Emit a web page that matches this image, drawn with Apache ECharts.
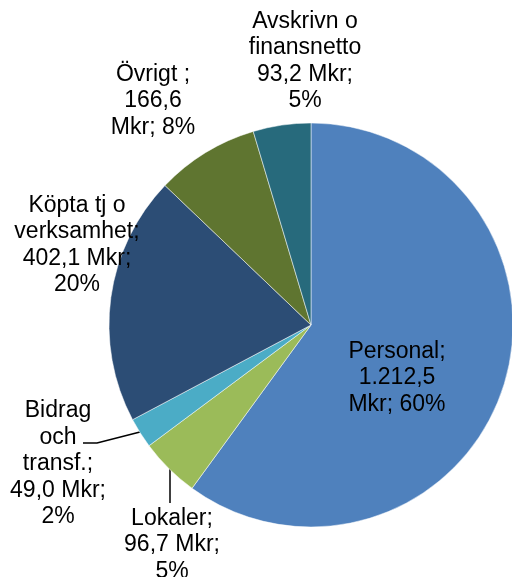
<!DOCTYPE html>
<html>
<head>
<meta charset="utf-8">
<script src="https://cdn.jsdelivr.net/npm/echarts@6/dist/echarts.min.js"></script>
<style>
  html, body { margin: 0; padding: 0; background: #fff; }
  #chart { width: 512px; height: 577px; }
</style>
</head>
<body>
<div id="chart"></div>
<script>
// categories and values (Mkr), clockwise from 12 o'clock
const categories = ['Personal', 'Lokaler', 'Bidrag och transf.', 'Köpta tj o verksamhet', 'Övrigt ', 'Avskrivn o finansnetto'];
const values = [1212.5, 96.7, 49.0, 402.1, 166.6, 93.2];
const colors = ['#4F81BD', '#9BBB59', '#4BACC6', '#2C4D75', '#5F7530', '#276A7C'];
// how each data label is broken into lines ({v} = value, {p} = percent)
const labelTemplates = [
  'Personal;\n{v}\nMkr; {p}',
  'Lokaler;\n{v} Mkr;\n{p}',
  'Bidrag\noch\ntransf.;\n{v} Mkr;\n{p}',
  'Köpta tj o\nverksamhet;\n{v} Mkr;\n{p}',
  'Övrigt ;\n{v}\nMkr; {p}',
  'Avskrivn o\nfinansnetto\n{v} Mkr;\n{p}'
];

// label placement (centre of the text block) and leader lines
const labelPos = [
  { x: 397, y: 378 },
  { x: 172, y: 545, line: [[170, 467], [170, 503]] },
  { x: 58, y: 464, line: [[140, 432], [97, 443], [83, 443]] },
  { x: 77, y: 245 },
  { x: 153, y: 101 },
  { x: 305, y: 61 }
];

const total = values.reduce((a, b) => a + b, 0);

function fmtSv(v) {
  let parts = v.toFixed(1).split('.');
  let int = parts[0].replace(/\B(?=(\d{3})+(?!\d))/g, '.');
  return int + ',' + parts[1];
}

const chart = echarts.init(document.getElementById('chart'), null, { renderer: 'canvas' });

const data = categories.map((name, i) => ({
  name: name,
  value: values[i],
  itemStyle: { color: colors[i] },
  labelLine: { show: !!labelPos[i].line }
}));

chart.setOption({
  animation: false,
  series: [{
    type: 'pie',
    center: [311, 325],
    radius: 202,
    startAngle: 90,
    clockwise: true,
    data: data,
    avoidLabelOverlap: false,
    itemStyle: { borderColor: '#ffffff', borderWidth: 0.5 },
    label: {
      show: true,
      position: 'outside',
      overflow: 'none',
      color: '#000',
      fontFamily: 'Liberation Sans, Arial, sans-serif',
      fontSize: 23,
      lineHeight: 26.5,
      align: 'center',
      formatter: function (p) {
        const pct = Math.round(values[p.dataIndex] / total * 100) + '%';
        return labelTemplates[p.dataIndex]
          .replace('{v}', fmtSv(values[p.dataIndex]))
          .replace('{p}', pct);
      }
    },
    labelLine: {
      show: false,
      lineStyle: { color: '#000', width: 1.5 }
    },
    labelLayout: function (params) {
      const pos = labelPos[params.dataIndex];
      const res = {
        x: pos.x,
        y: pos.y,
        align: 'center',
        verticalAlign: 'middle',
        hideOverlap: false
      };
      if (pos.line) res.labelLinePoints = pos.line;
      return res;
    }
  }]
});
</script>
</body>
</html>
